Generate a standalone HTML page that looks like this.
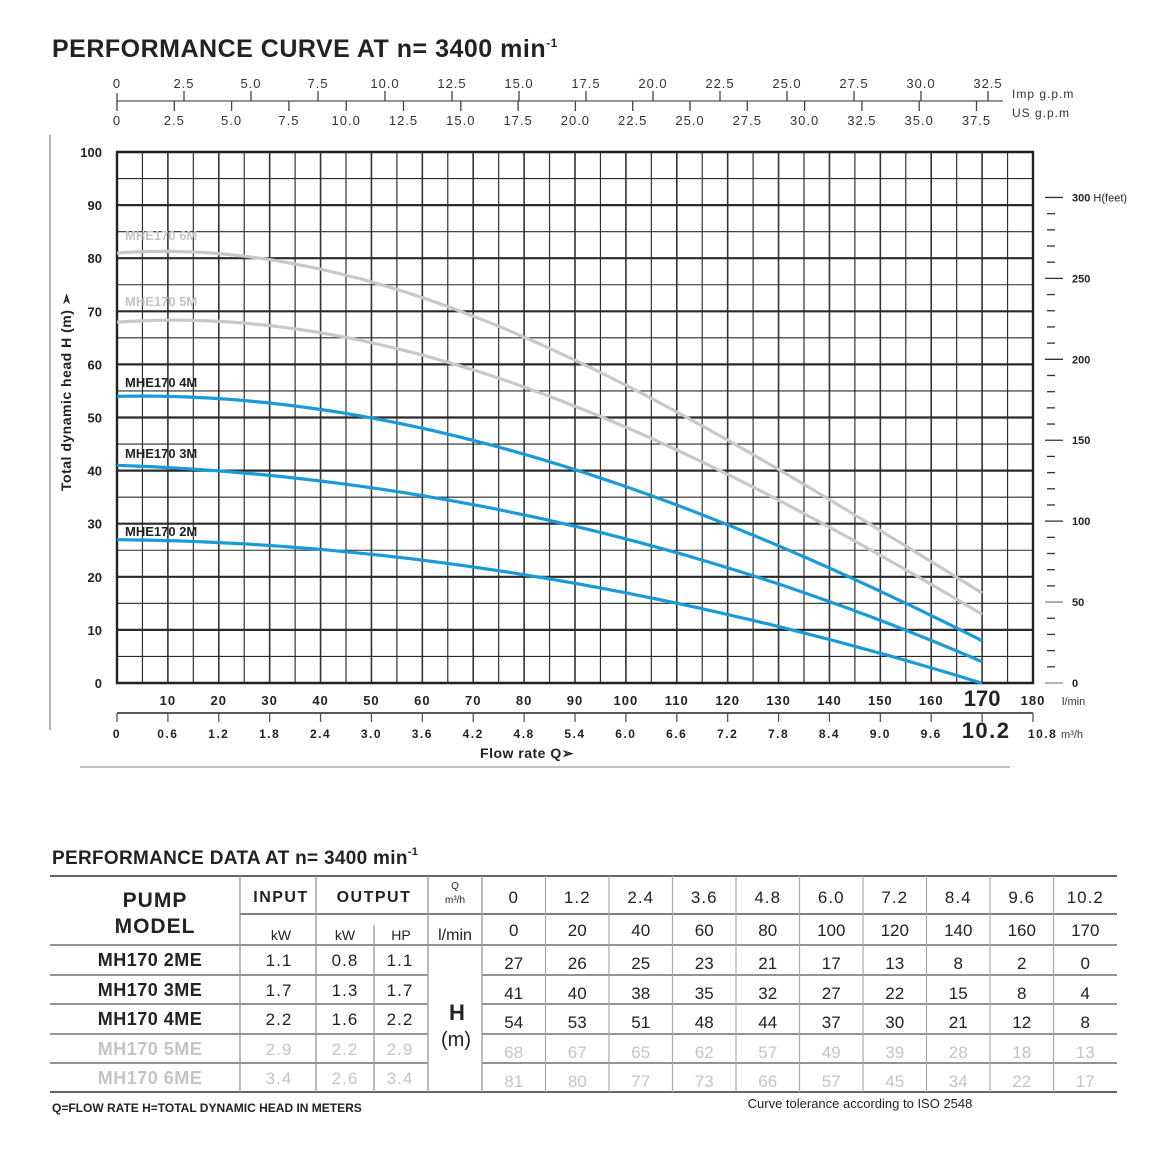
<!DOCTYPE html>
<html><head><meta charset="utf-8"><style>
html,body{margin:0;padding:0;background:#fff;}
svg{display:block;font-family:"Liberation Sans",Arial,sans-serif;}
</style></head><body>
<svg id="s" width="1170" height="1170" viewBox="0 0 1170 1170" xmlns="http://www.w3.org/2000/svg"></svg>
<script>
const s=document.getElementById('s');let h='';
const X=q=>117+q*(916/180), Y=m=>683-m*5.31;
h+=`<text x="52" y="57" font-size="25" font-weight="bold" fill="#222" letter-spacing="0.5">PERFORMANCE CURVE AT n= 3400 min<tspan font-size="12" dy="-10">-1</tspan></text>`;
h+=`<line x1="117" y1="101" x2="1003" y2="101" stroke="#555" stroke-width="1.3"/>`;
for(let i=0;i<=13;i++){let x=117+i*67;h+=`<line x1="${x}" y1="101" x2="${x}" y2="${i?91:93}" stroke="#444" stroke-width="1.3"/><text x="${x}" y="88" font-size="13" text-anchor="middle" fill="#333" letter-spacing="1">${(i*2.5).toFixed(1).replace(/^0\.0$/,'0')}</text>`;}
for(let i=0;i<=15;i++){let x=117+i*57.3;h+=`<line x1="${x}" y1="101" x2="${x}" y2="111" stroke="#444" stroke-width="1.3"/><text x="${x}" y="125" font-size="13" text-anchor="middle" fill="#333" letter-spacing="1">${(i*2.5).toFixed(1).replace(/^0\.0$/,'0')}</text>`;}
h+=`<text x="1012" y="98" font-size="12" fill="#333" letter-spacing="1">Imp g.p.m</text><text x="1012" y="117" font-size="12" fill="#333" letter-spacing="1">US g.p.m</text>`;
h+=`<line x1="50" y1="135" x2="50" y2="730" stroke="#999" stroke-width="1.5"/>`;
for(let i=0;i<=36;i++){let x=X(i*5);h+=`<line x1="${x}" y1="152" x2="${x}" y2="683" stroke="#333" stroke-width="${i%2?1.2:1.6}"/>`;}
for(let i=0;i<=20;i++){let y=Y(i*5);h+=`<line x1="117" y1="${y}" x2="1033" y2="${y}" stroke="#2a2a2a" stroke-width="${i%2?1.1:2.2}"/>`;}
h+=`<rect x="117" y="152" width="916" height="531" fill="none" stroke="#222" stroke-width="2.4"/>`;
for(let i=0;i<=10;i++){h+=`<text x="102" y="${Y(i*10)+5}" font-size="13" font-weight="bold" text-anchor="end" fill="#222">${i*10}</text>`;}
h+=`<text transform="translate(71,392) rotate(-90)" font-size="14" font-weight="bold" text-anchor="middle" fill="#222" letter-spacing="0.5">Total dynamic head H (m) ➢</text>`;
for(let f=0;f<=300;f+=10){let y=683-f*0.3048*5.31;let big=f%50==0;h+=`<line x1="${big?1045:1047}" y1="${y}" x2="${big?1063:1055}" y2="${y}" stroke="${f==0||f==50?'#888':'#333'}" stroke-width="1.3"/>`;
 if(big){h+=`<text x="1072" y="${y+4}" font-size="11" font-weight="bold" fill="#222">${f}${f==300?' <tspan font-weight="normal">H(feet)</tspan>':''}</text>`;}}
for(let i=1;i<=18;i++){if(i==17)continue;h+=`<text x="${X(i*10)}" y="705" font-size="13" font-weight="bold" text-anchor="middle" fill="#222" letter-spacing="1">${i*10}</text>`;}
h+=`<text x="${X(170)}" y="706" font-size="22" font-weight="bold" text-anchor="middle" fill="#222">170</text><text x="1062" y="705" font-size="11" fill="#333">l/min</text>`;
h+=`<line x1="117" y1="713" x2="1033" y2="713" stroke="#222" stroke-width="1.5"/>`;
for(let i=0;i<=18;i++){let x=X(i*10);h+=`<line x1="${x}" y1="713" x2="${x}" y2="722" stroke="#555" stroke-width="1.3"/>`;
 if(i==17){h+=`<text x="${x+4}" y="738" font-size="22" font-weight="bold" text-anchor="middle" fill="#222" letter-spacing="1.5">10.2</text>`;}
 else if(i!=18){h+=`<text x="${x}" y="738" font-size="12" font-weight="bold" text-anchor="middle" fill="#222" letter-spacing="1.5">${i?(i*0.6).toFixed(1):'0'}</text>`;}}
h+=`<text x="1028" y="738" font-size="12" font-weight="bold" fill="#222" letter-spacing="1.5">10.8</text><text x="1061" y="738" font-size="11" fill="#333">m³/h</text>`;
h+=`<text x="527" y="758" font-size="14" font-weight="bold" text-anchor="middle" fill="#222" letter-spacing="0.5">Flow rate Q➢</text>`;
h+=`<line x1="80" y1="767" x2="1010" y2="767" stroke="#999" stroke-width="1.2"/>`;
const qs=[0,20,40,60,80,100,120,140,160,170];
const D=[[27,26,25,23,21,17,13,8,2,0],[41,40,38,35,32,27,22,15,8,4],[54,53,51,48,44,37,30,21,12,8],[68,67,65,62,57,49,39,28,18,13],[81,80,77,73,66,57,45,34,22,17]];
function solve(A,b){const n=b.length;for(let i=0;i<n;i++){let p=i;for(let r=i+1;r<n;r++)if(Math.abs(A[r][i])>Math.abs(A[p][i]))p=r;[A[i],A[p]]=[A[p],A[i]];[b[i],b[p]]=[b[p],b[i]];for(let r=i+1;r<n;r++){let f=A[r][i]/A[i][i];for(let c=i;c<n;c++)A[r][c]-=f*A[i][c];b[r]-=f*b[i];}}const x=new Array(n).fill(0);for(let i=n-1;i>=0;i--){let t=b[i];for(let c=i+1;c<n;c++)t-=A[i][c]*x[c];x[i]=t/A[i][i];}return x;}
function fit(d){const deg=3,n=deg+1;const A=[...Array(n)].map(()=>Array(n).fill(0)),b=Array(n).fill(0);
 qs.forEach((q,k)=>{let t=q/100;let w=(k==0||k==9)?20:1;for(let i=0;i<n;i++){b[i]+=w*d[k]*t**i;for(let j=0;j<n;j++)A[i][j]+=w*t**(i+j);}});return solve(A,b);}
D.forEach((d,k)=>{const c=fit(d);let p='';for(let q=0;q<=170;q+=2){let t=q/100;let v=c[0]+c[1]*t+c[2]*t*t+c[3]*t*t*t;p+=(q?'L':'M')+X(q).toFixed(1)+','+Y(v).toFixed(1);}
 h+=`<path d="${p}" fill="none" stroke="${k<3?'#1a9ad6':'#c8c8c8'}" stroke-width="3.2"/>`;});
const lab=[[2,536],[3,458],[4,387],[5,306],[6,240]];
lab.forEach(([n,y])=>{h+=`<text x="125" y="${y}" font-size="13" font-weight="bold" fill="${n<5?'#222':'#c4c4c4'}">MHE170 ${n}M</text>`;});
h+=`<text x="52" y="864" font-size="19" font-weight="bold" fill="#222" letter-spacing="0.3">PERFORMANCE DATA AT n= 3400 min<tspan font-size="11" dy="-9">-1</tspan></text>`;
const cb=[482];for(let i=1;i<=10;i++)cb.push(482+i*63.5);
const rows=[876,914,945,975,1004,1034,1063,1092];
h+=`<line x1="50" y1="876" x2="1117" y2="876" stroke="#333" stroke-width="1.6"/><line x1="50" y1="1092" x2="1117" y2="1092" stroke="#333" stroke-width="1.6"/>`;
h+=`<line x1="240" y1="914" x2="1117" y2="914" stroke="#333" stroke-width="1.3"/>`;
[945,975,1004,1034,1063].forEach(y=>{h+=`<line x1="50" y1="${y}" x2="428" y2="${y}" stroke="#555" stroke-width="1.3"/><line x1="482" y1="${y}" x2="1117" y2="${y}" stroke="#555" stroke-width="1.3"/>`;});
h+=`<line x1="428" y1="945" x2="482" y2="945" stroke="#555" stroke-width="1.3"/>`;
[240,316,428,482].forEach(x=>{h+=`<line x1="${x}" y1="876" x2="${x}" y2="1092" stroke="#999" stroke-width="1.3"/>`;});
h+=`<line x1="374" y1="925" x2="374" y2="1092" stroke="#999" stroke-width="1.3"/>`;
cb.slice(1,10).forEach(x=>{h+=`<line x1="${x}" y1="876" x2="${x}" y2="1092" stroke="#aaa" stroke-width="1.2"/>`;});
h+=`<text x="155" y="907" font-size="21" font-weight="bold" text-anchor="middle" fill="#222" letter-spacing="1">PUMP</text><text x="155" y="933" font-size="21" font-weight="bold" text-anchor="middle" fill="#222" letter-spacing="1">MODEL</text>`;
h+=`<text x="281" y="902" font-size="16" font-weight="bold" text-anchor="middle" fill="#222" letter-spacing="1.5">INPUT</text><text x="374" y="902" font-size="16" font-weight="bold" text-anchor="middle" fill="#222" letter-spacing="1.5">OUTPUT</text>`;
h+=`<text x="455" y="889" font-size="10" text-anchor="middle" fill="#222">Q</text><text x="455" y="903" font-size="10" text-anchor="middle" fill="#222">m³/h</text>`;
h+=`<text x="281" y="940" font-size="14" text-anchor="middle" fill="#222">kW</text><text x="345" y="940" font-size="14" text-anchor="middle" fill="#222">kW</text><text x="401" y="940" font-size="14" text-anchor="middle" fill="#222">HP</text><text x="455" y="940" font-size="16" text-anchor="middle" fill="#222">l/min</text>`;
const m3=['0','1.2','2.4','3.6','4.8','6.0','7.2','8.4','9.6','10.2'];
m3.forEach((t,i)=>{let cx=(cb[i]+cb[i+1])/2;h+=`<text x="${cx}" y="903" font-size="17" text-anchor="middle" fill="#222" letter-spacing="1">${t}</text><text x="${cx}" y="936" font-size="17" text-anchor="middle" fill="#222">${qs[i]}</text>`;});
const info=[['2ME','1.1','0.8','1.1'],['3ME','1.7','1.3','1.7'],['4ME','2.2','1.6','2.2'],['5ME','2.9','2.2','2.9'],['6ME','3.4','2.6','3.4']];
info.forEach((r,k)=>{let y=rows[k+2]+21;let c=k<3?'#222':'#c4c4c4';
 h+=`<text x="150" y="${y}" font-size="18" font-weight="bold" text-anchor="middle" fill="${c}" letter-spacing="0.5">MH170 ${r[0]}</text>`;
 h+=`<text x="279" y="${y}" font-size="17" text-anchor="middle" fill="${c}" letter-spacing="1">${r[1]}</text><text x="345" y="${y}" font-size="17" text-anchor="middle" fill="${c}" letter-spacing="1">${r[2]}</text><text x="400" y="${y}" font-size="17" text-anchor="middle" fill="${c}" letter-spacing="1">${r[3]}</text>`;
 D[k].forEach((v,i)=>{let cx=(cb[i]+cb[i+1])/2;h+=`<text x="${cx}" y="${y+3}" font-size="17" text-anchor="middle" fill="${c}">${v}</text>`;});});
h+=`<text x="457" y="1020" font-size="22" font-weight="bold" text-anchor="middle" fill="#222">H</text><text x="456" y="1046" font-size="20" text-anchor="middle" fill="#222">(m)</text>`;
h+=`<text x="52" y="1112" font-size="12" font-weight="bold" fill="#222">Q=FLOW RATE  H=TOTAL DYNAMIC HEAD IN METERS</text>`;
h+=`<text x="860" y="1108" font-size="13" text-anchor="middle" fill="#222">Curve tolerance according to ISO 2548</text>`;
s.innerHTML=h;
</script>
</body></html>
